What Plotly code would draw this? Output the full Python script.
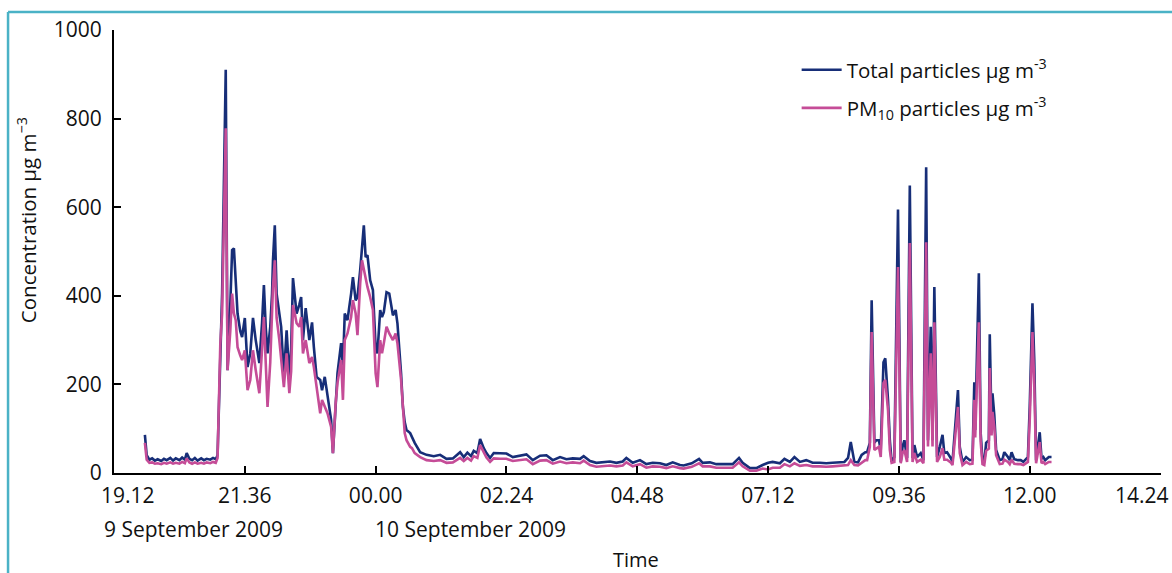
import plotly.graph_objects as go

# ---------------- data ----------------
times = [
    "19:46", "19:48", "19:51", "19:54", "19:57", "20:00", "20:04", "20:07", "20:10", "20:14",
    "20:17", "20:20", "20:24", "20:27", "20:30", "20:32", "20:35", "20:38", "20:41", "20:44",
    "20:48", "20:51", "20:54", "20:58", "21:01", "21:04", "21:06", "21:09", "21:11", "21:15",
    "21:17", "21:20", "21:22", "21:24", "21:26", "21:28", "21:31", "21:33", "21:36", "21:39",
    "21:42", "21:45", "21:48", "21:52", "21:55", "21:57", "21:59", "22:01", "22:04", "22:06",
    "22:07", "22:09", "22:11", "22:14", "22:16", "22:19", "22:22", "22:25", "22:27", "22:29",
    "22:31", "22:33", "22:36", "22:38", "22:40", "22:43", "22:47", "22:50", "22:52", "22:55",
    "22:59", "23:01", "23:04", "23:07", "23:11", "23:13", "23:16", "23:18", "23:22", "23:24",
    "23:26", "23:29", "23:33", "23:35", "23:38", "23:40", "23:43", "23:45", "23:47", "23:49",
    "23:51", "23:54", "23:57", "00:00", "00:02", "00:05", "00:07", "00:09", "00:12", "00:15",
    "00:17", "00:19", "00:22", "00:24", "00:28", "00:30", "00:32", "00:34", "00:38", "00:40",
    "00:43", "00:49", "00:56", "01:04", "01:11", "01:18", "01:25", "01:33", "01:37", "01:41",
    "01:45", "01:48", "01:52", "01:55", "01:59", "02:02", "02:06", "02:10", "02:17", "02:24",
    "02:31", "02:39", "02:46", "02:53", "03:01", "03:08", "03:15", "03:23", "03:30", "03:37",
    "03:45", "03:49", "03:56", "04:03", "04:10", "04:18", "04:25", "04:32", "04:36", "04:43",
    "04:51", "04:58", "05:05", "05:13", "05:20", "05:27", "05:35", "05:39", "05:48", "05:56",
    "06:00", "06:08", "06:15", "06:22", "06:33", "06:40", "06:44", "06:52", "06:59", "07:06",
    "07:12", "07:17", "07:25", "07:30", "07:36", "07:41", "07:47", "07:54", "08:01", "08:09",
    "08:16", "08:23", "08:31", "08:36", "08:40", "08:43", "08:47", "08:51", "08:55", "08:59",
    "09:01", "09:04", "09:06", "09:09", "09:11", "09:14", "09:16", "09:19", "09:21", "09:24",
    "09:26", "09:28", "09:31", "09:35", "09:38", "09:40", "09:42", "09:45", "09:48", "09:51",
    "09:53", "09:56", "10:00", "10:03", "10:06", "10:08", "10:11", "10:13", "10:15", "10:18",
    "10:21", "10:24", "10:26", "10:29", "10:33", "10:35", "10:41", "10:43", "10:46", "10:50",
    "10:54", "10:57", "10:59", "11:00", "11:04", "11:06", "11:08", "11:10", "11:12", "11:15",
    "11:16", "11:18", "11:19", "11:21", "11:23", "11:27", "11:30", "11:32", "11:36", "11:38",
    "11:40", "11:43", "11:47", "11:50", "11:53", "11:58", "12:00", "12:03", "12:05", "12:07",
    "12:11", "12:13", "12:15", "12:17", "12:21", "12:24",
]

total_particles = [
    86, 40, 30, 33, 28, 31, 27, 32, 29, 34,
    28, 33, 29, 35, 30, 45, 32, 29, 34, 28,
    33, 29, 32, 30, 34, 31, 40, 300, 405, 910,
    232, 380, 503, 507, 420, 360, 320, 307, 350, 239,
    270, 350, 300, 248, 340, 424, 330, 270, 330, 405,
    480, 559, 405, 360, 330, 217, 322, 217, 280, 440,
    400, 360, 380, 397, 300, 372, 300, 340, 284, 217,
    210, 187, 217, 171, 120, 45, 165, 225, 293, 239,
    360, 345, 405, 442, 390, 397, 458, 510, 559, 487,
    492, 435, 413, 284, 270, 368, 352, 363, 408, 405,
    375, 356, 368, 338, 225, 149, 115, 97, 90, 81,
    68, 47, 41, 38, 41, 32, 33, 47, 36, 46,
    38, 50, 45, 77, 56, 45, 34, 45, 44, 44,
    36, 40, 42, 29, 39, 40, 29, 36, 31, 33,
    32, 38, 27, 23, 25, 26, 23, 26, 34, 23,
    29, 20, 23, 22, 18, 24, 18, 17, 22, 32,
    23, 24, 20, 20, 20, 34, 23, 11, 11, 18,
    23, 25, 22, 32, 25, 36, 25, 29, 23, 23,
    22, 23, 24, 25, 34, 70, 25, 24, 41, 47,
    47, 68, 390, 68, 74, 74, 52, 250, 259, 165,
    74, 25, 36, 595, 25, 59, 74, 34, 649, 34,
    63, 36, 45, 29, 690, 74, 330, 74, 420, 36,
    59, 86, 45, 47, 34, 25, 187, 59, 25, 36,
    29, 30, 205, 97, 451, 90, 29, 25, 68, 74,
    313, 104, 180, 131, 52, 29, 31, 47, 36, 29,
    47, 31, 29, 29, 25, 36, 150, 383, 255, 29,
    92, 32, 36, 29, 36, 36,
]

pm10_particles = [
    68, 30, 23, 24, 21, 22, 20, 23, 21, 24,
    21, 23, 21, 25, 22, 33, 24, 21, 24, 21,
    23, 21, 24, 22, 25, 23, 34, 290, 360, 778,
    232, 320, 405, 360, 345, 284, 265, 255, 277, 187,
    210, 277, 232, 180, 280, 352, 250, 149, 250, 352,
    420, 480, 350, 300, 255, 194, 270, 180, 230, 379,
    360, 338, 330, 352, 270, 300, 248, 262, 239, 194,
    135, 165, 149, 135, 104, 45, 158, 203, 255, 165,
    300, 315, 352, 390, 360, 311, 428, 480, 460, 435,
    420, 397, 368, 225, 194, 300, 270, 293, 330, 315,
    307, 300, 315, 293, 210, 135, 90, 74, 59, 56,
    45, 36, 29, 27, 29, 23, 24, 34, 27, 34,
    28, 38, 34, 63, 45, 35, 25, 33, 32, 32,
    27, 29, 31, 20, 28, 29, 21, 26, 22, 24,
    22, 28, 18, 14, 16, 17, 15, 17, 24, 15,
    20, 12, 15, 14, 11, 15, 11, 10, 14, 22,
    15, 15, 12, 12, 12, 24, 15, 5, 5, 10,
    8, 12, 12, 20, 15, 22, 16, 18, 15, 15,
    14, 15, 16, 16, 18, 29, 18, 17, 22, 29,
    29, 59, 318, 52, 55, 59, 36, 203, 210, 142,
    52, 23, 25, 465, 22, 45, 52, 25, 519, 25,
    45, 25, 30, 22, 521, 60, 270, 60, 340, 25,
    36, 56, 30, 30, 24, 18, 149, 45, 18, 25,
    20, 21, 165, 80, 340, 70, 20, 18, 50, 55,
    237, 85, 138, 104, 40, 20, 21, 30, 25, 20,
    30, 21, 20, 20, 18, 25, 120, 318, 200, 22,
    70, 22, 25, 20, 25, 25,
]

tick_times = ["2009-09-09 19:12", "2009-09-09 21:36", "2009-09-10 00:00",
              "2009-09-10 02:24", "2009-09-10 04:48", "2009-09-10 07:12",
              "2009-09-10 09:36", "2009-09-10 12:00", "2009-09-10 14:24"]
tick_labels = ["19.12", "21.36", "00.00", "02.24", "04.48", "07.12", "09.36", "12.00", "14.24"]
y_ticks = [0, 200, 400, 600, 800, 1000]

series_names = ["Total particles μg m<sup>-3</sup>", "PM<sub>10</sub> particles μg m<sup>-3</sup>"]
date_labels = ["9 September 2009", "10 September 2009"]

# ---------------- build ----------------
def to_dt(t):
    day = "2009-09-09" if t >= "19:00" else "2009-09-10"
    return f"{day} {t}"

x = [to_dt(t) for t in times]

NAVY = "#172E78"
PINK = "#C54C97"
FONT = "Open Sans"

# first and last tick labels are offset in the original (drawn as annotations)
inner_ticktext = [""] + tick_labels[1:-1] + [""]

fig = go.Figure()
fig.add_trace(go.Scatter(x=x, y=total_particles, mode="lines", name=series_names[0],
                         line=dict(color=NAVY, width=2.6), legend="legend"))
fig.add_trace(go.Scatter(x=x, y=pm10_particles, mode="lines", name=series_names[1],
                         line=dict(color=PINK, width=2.6), legend="legend2"))

fig.update_layout(
    width=1172, height=573,
    margin=dict(l=114, r=11, t=30, b=100),
    paper_bgcolor="white", plot_bgcolor="white",
    font=dict(family=FONT, size=20, color="#111111"),
    showlegend=True,
    legend=dict(x=0.652, y=0.955, xanchor="left", yanchor="top", itemwidth=40,
                bgcolor="rgba(0,0,0,0)", font=dict(size=20.5)),
    legend2=dict(x=0.652, y=0.869, xanchor="left", yanchor="top", itemwidth=40,
                 bgcolor="rgba(0,0,0,0)", font=dict(size=20.5)),
    xaxis=dict(
        range=["2009-09-09 19:12", "2009-09-10 14:24:30"],
        tickvals=tick_times, ticktext=inner_ticktext,
        ticks="inside", ticklen=7, tickwidth=2, tickcolor="black",
        showline=True, linecolor="black", linewidth=2,
        showgrid=False, zeroline=False,
        tickfont=dict(size=21), ticklabelstandoff=3,
    ),
    yaxis=dict(
        range=[0, 1000], tickvals=y_ticks,
        ticks="inside", ticklen=7, tickwidth=2, tickcolor="black",
        showline=True, linecolor="black", linewidth=2,
        showgrid=False, zeroline=False,
        tickfont=dict(size=21), ticklabelstandoff=6,
    ),
    annotations=[
        dict(text=tick_labels[0], xref="paper", yref="paper", x=0.0134, y=-0.05,
             xanchor="center", yanchor="middle", showarrow=False, font=dict(size=21)),
        dict(text=tick_labels[-1], xref="paper", yref="paper", x=1.0096, y=-0.05,
             xanchor="right", yanchor="middle", showarrow=False, font=dict(size=21)),
        dict(text="Concentration μg m<sup>−3</sup>", textangle=-90,
             xref="paper", yref="paper", x=-0.083, y=0.571,
             xanchor="center", yanchor="middle", showarrow=False, font=dict(size=20.5)),
        dict(text=date_labels[0], xref="paper", yref="paper", x=-0.0115, y=-0.126,
             xanchor="left", yanchor="middle", showarrow=False, font=dict(size=21)),
        dict(text=date_labels[1], xref="paper", yref="paper", x=0.2474, y=-0.126,
             xanchor="left", yanchor="middle", showarrow=False, font=dict(size=21)),
        dict(text="Time", xref="paper", yref="paper", x=0.4985, y=-0.196,
             xanchor="center", yanchor="middle", showarrow=False, font=dict(size=20)),
    ],
    shapes=[
        dict(type="line", xref="paper", yref="paper", x0=-0.1012, x1=1.03, y0=1.0406, y1=1.0406,
             line=dict(color="#4AB2C6", width=2.5)),
        dict(type="line", xref="paper", yref="paper", x0=-0.1012, x1=-0.1012, y0=1.0406, y1=-0.3,
             line=dict(color="#4AB2C6", width=2.5)),
    ],
)

fig.write_html("out.html")
